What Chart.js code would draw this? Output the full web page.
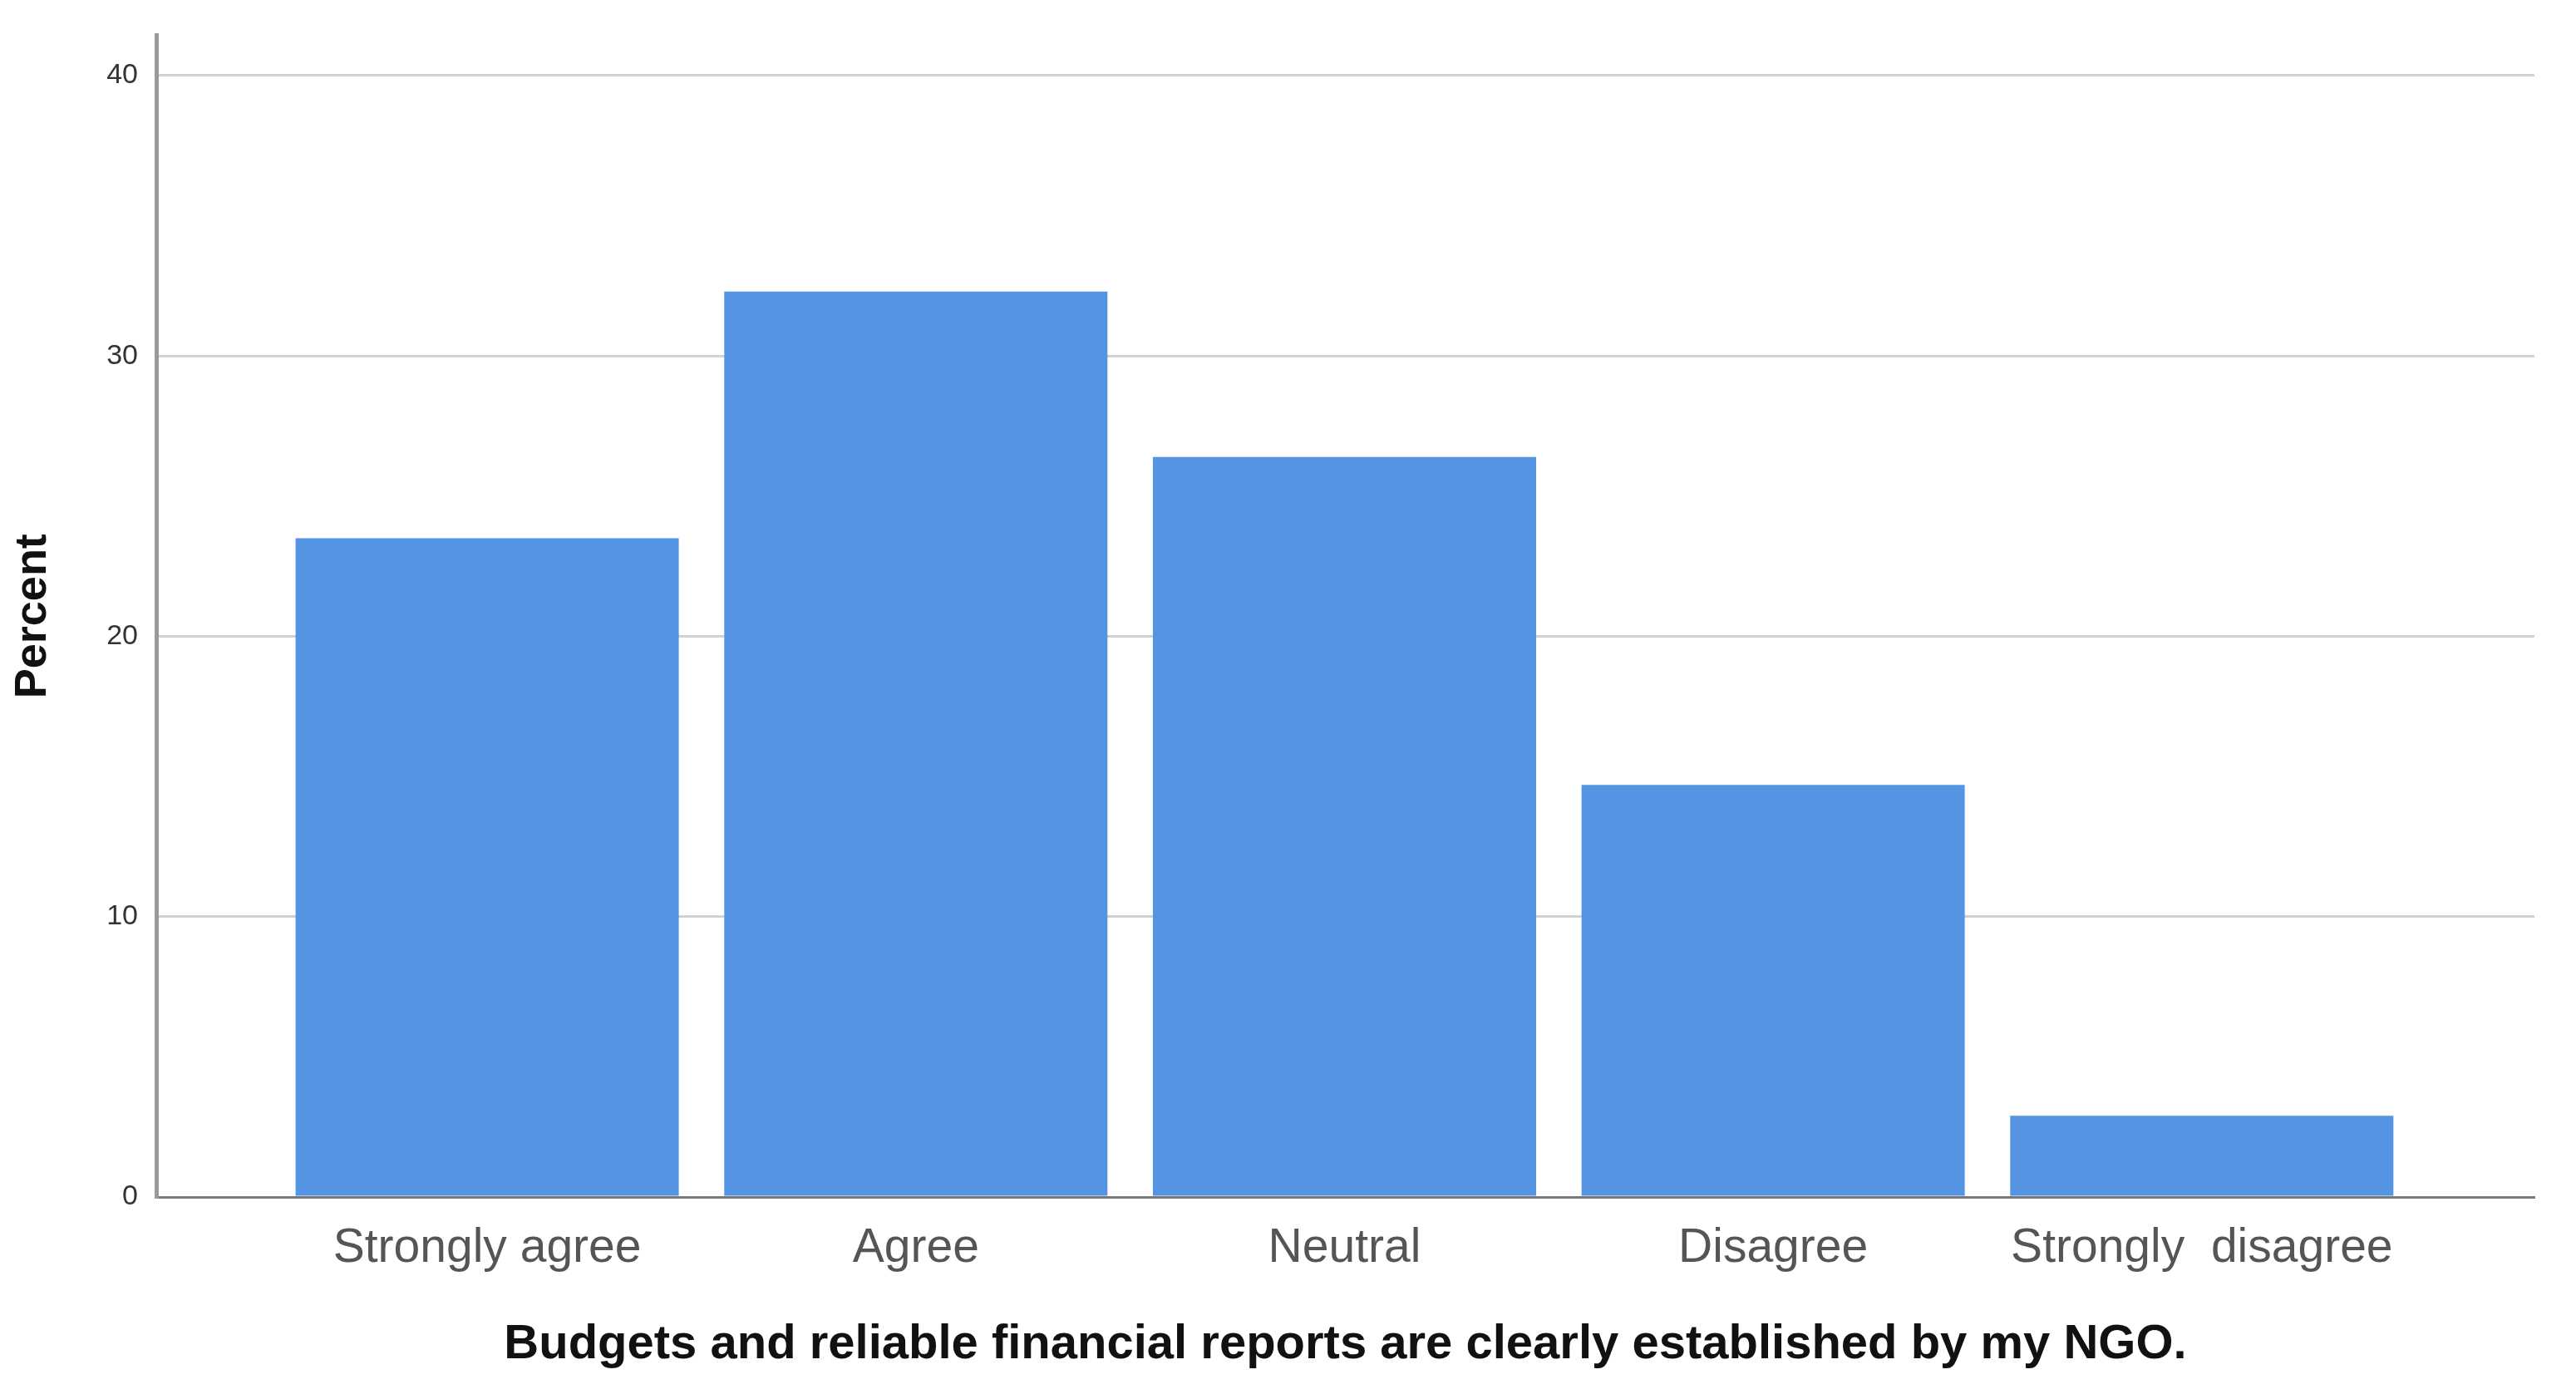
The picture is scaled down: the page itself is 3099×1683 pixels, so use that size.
<!DOCTYPE html>
<html>
<head>
<meta charset="utf-8">
<script src="https://cdn.jsdelivr.net/npm/chart.js@4/dist/chart.umd.min.js"></script>
<style>
  html, body { margin: 0; padding: 0; background: #ffffff; }
  #wrap { width: 3099px; height: 1683px; position: relative; }
</style>
</head>
<body>
<div id="wrap"><canvas id="c" width="3099" height="1683"></canvas></div>
<script>
const categories = ["Strongly agree", "Agree", "Neutral", "Disagree", "Strongly  disagree"];
const percents = [23.5, 32.3, 26.4, 14.7, 2.9];
const yTicks = [0, 10, 20, 30, 40];
const xTitle = "Budgets and reliable financial reports are clearly established by my NGO.";
const yTitle = "Percent";

const points = categories.map((c, i) => ({ x: i + 1, y: percents[i] }));

new Chart(document.getElementById('c'), {
  type: 'bar',
  data: {
    datasets: [{
      data: points,
      backgroundColor: '#5594e2',
      borderWidth: 0,
      categoryPercentage: 1.0,
      barPercentage: 0.894
    }]
  },
  options: {
    responsive: false,
    animation: false,
    devicePixelRatio: 1,
    layout: { autoPadding: false, padding: { top: 26, right: 50, left: 0, bottom: 0 } },
    plugins: { legend: { display: false }, tooltip: { enabled: false } },
    scales: {
      x: {
        type: 'linear',
        offset: false,
        min: 0.228,
        max: 5.776,
        afterBuildTicks: (s) => { s.ticks = categories.map((c, i) => ({ value: i + 1 })); },
        afterFit: (s) => { s.height = 243; },
        grid: { display: false, drawTicks: false },
        border: { display: true, color: '#7a7a7a', width: 3 },
        ticks: {
          autoSkip: false,
          maxRotation: 0,
          padding: 28,
          color: '#555555',
          font: { family: 'Liberation Sans, Arial, sans-serif', size: 57 },
          callback: (v) => categories[Math.round(v) - 1] || ''
        },
        title: {
          display: true,
          text: xTitle,
          color: '#111111',
          font: { family: 'Liberation Sans, Arial, sans-serif', size: 58, weight: 'bold' },
          padding: { top: 0, bottom: 30 }
        }
      },
      y: {
        type: 'linear',
        min: 0,
        max: 41.44,
        afterBuildTicks: (s) => { s.ticks = yTicks.map(v => ({ value: v })); },
        afterFit: (s) => { s.width = 188; },
        grid: { display: true, color: '#d2d2d2', lineWidth: 3, drawTicks: false },
        border: { display: true, color: '#9a9a9a', width: 5 },
        ticks: {
          padding: 22,
          color: '#333333',
          font: { family: 'Liberation Sans, Arial, sans-serif', size: 34 }
        },
        title: {
          display: true,
          text: yTitle,
          color: '#111111',
          font: { family: 'Liberation Sans, Arial, sans-serif', size: 54, weight: 'bold' },
          padding: { top: 8, bottom: 0 }
        }
      }
    }
  }
});
</script>
</body>
</html>
